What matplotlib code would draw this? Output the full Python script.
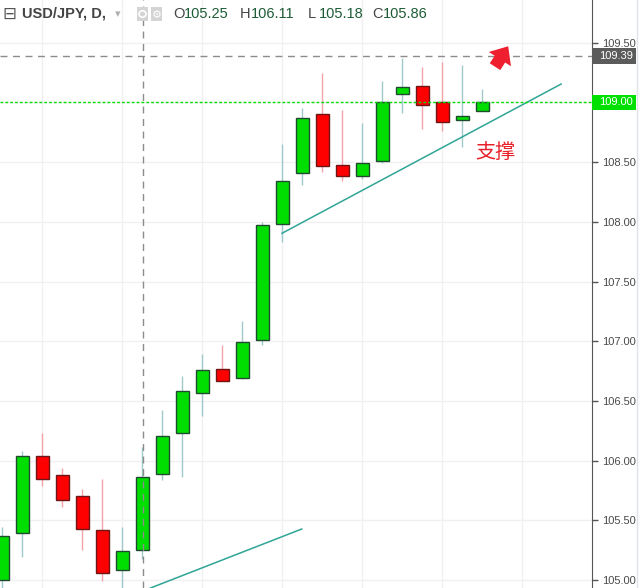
import matplotlib
matplotlib.use("Agg")
import matplotlib.pyplot as plt
from matplotlib.patches import Rectangle, Circle

# daily USD/JPY candles
opens = [105.00, 105.39, 106.04, 105.88, 105.70, 105.42, 105.08, 105.25, 105.89, 106.23,
         106.57, 106.77, 106.69, 107.01, 107.98, 108.41, 108.90, 108.48, 108.38, 108.51,
         109.07, 109.14, 109.00, 108.85, 108.93]
highs = [105.44, 106.08, 106.23, 105.94, 105.76, 105.85, 105.44, 106.11, 106.42, 106.71,
         106.89, 106.97, 107.17, 108.00, 108.65, 108.95, 109.25, 108.94, 108.83, 109.18,
         109.37, 109.30, 109.34, 109.31, 109.11]
lows = [104.90, 105.19, 105.79, 105.61, 105.25, 104.99, 104.90, 105.18, 105.84, 105.86,
        106.37, 106.67, 106.68, 106.97, 107.83, 108.31, 108.42, 108.34, 108.36, 108.49,
        108.91, 108.78, 108.76, 108.63, 108.93]
closes = [105.37, 106.04, 105.85, 105.67, 105.43, 105.06, 105.24, 105.86, 106.21, 106.58,
          106.76, 106.67, 106.99, 107.97, 108.34, 108.87, 108.47, 108.38, 108.49, 109.00,
          109.13, 108.98, 108.84, 108.89, 109.00]

y_ticks = [105.0, 105.5, 106.0, 106.5, 107.0, 107.5, 108.0, 108.5, 109.0, 109.5]
grid_x = [2, 6, 10, 14, 18, 22, 26]

last_price = 109.39
level_price = 109.00
support_upper = ([13.975, 27.93], [107.904, 109.154])
support_lower = ([7.4, 14.96], [104.933, 105.427])
crosshair_x = 7.04
header_vals = [("O", 105.25), ("H", 106.11), ("L", 105.18), ("C", 105.86)]

UP = "#00dd00"
DOWN = "#ff0000"
W, H = 639, 588

fig = plt.figure(figsize=(W / 100, H / 100), dpi=100)
ax = fig.add_axes([0, 0, 592 / W, 1])
ax.set_xlim(-0.125, 29.475)
ax.set_ylim(104.933, 109.858)

for i in range(len(opens)):
    o, h, l, c = opens[i], highs[i], lows[i], closes[i]
    up = c >= o
    wick = "#9fc8cb" if up else "#f4a3ab"
    ax.vlines(i, l, h, color=wick, lw=1.0, zorder=2)
    ax.bar(i, abs(c - o), bottom=min(o, c), width=0.62,
           color=UP if up else DOWN, edgecolor="#1f4a30" if up else "#6e1515",
           lw=1.0, zorder=3)

ax.plot(*support_upper, color="#2fa596", lw=1.1, zorder=4)
ax.plot(*support_lower, color="#2fa596", lw=1.1, zorder=4)

ax.axhline(last_price, color="#8c8c8c", lw=1.0, ls=(0, (5, 4)), zorder=1)
ax.axhline(level_price, color="#00dd00", lw=1.0, ls=(0, (2, 1.5)), zorder=4)
ax.axvline(crosshair_x, color="#8c8c8c", lw=1.0, ls=(0, (5, 4)), zorder=5)

ax.annotate("", xy=(25.36, 109.49), xytext=(24.55, 109.28),
            arrowprops=dict(arrowstyle="simple,head_width=1.9,head_length=1.1,tail_width=0.9",
                            color="#ee2030", mutation_scale=10, lw=0))
ax.text(24.65, 108.58, "支撑", color="#e8202a", fontsize=14.5, ha="center", va="center",
        family=["Noto Sans CJK SC", "DejaVu Sans"])

# axes styling
for side in ("left", "top", "bottom"):
    ax.spines[side].set_visible(False)
ax.spines["right"].set_color("#555555")
ax.yaxis.tick_right()
ax.set_yticks(y_ticks)
# the 109.00 label sits under the green price tag
ax.set_yticklabels(["" if v == level_price else f"{v:.2f}" for v in y_ticks])
ax.tick_params(axis="y", length=4, width=1, color="#555555", pad=3,
               labelsize=8, labelcolor="#4a4a4a")
for lab in ax.get_yticklabels():
    lab.set_family("Liberation Sans")
ax.set_xticks(grid_x)
ax.tick_params(axis="x", length=0, labelbottom=False)
ax.grid(True, color="#f0f0f0", lw=1.0, zorder=0)
ax.set_axisbelow(True)

# price tags on the scale
yt = ax.get_yaxis_transform()
for price, fc in ((last_price, "#5b5b5b"), (level_price, "#00e000")):
    ax.add_patch(Rectangle((1.0, price - 0.066), 44 / 592, 0.132, transform=yt,
                           fc=fc, ec="none", clip_on=False, zorder=10))
    ax.text(1.0 + 7 / 592, price, f"{price:.2f}", transform=yt, color="white",
            fontsize=8, family="Liberation Sans", va="center", ha="left",
            clip_on=False, zorder=11)

# right border of the scale
fig.add_artist(plt.Line2D([636.5 / W] * 2, [0, 1], color="#e0e3eb", lw=1.0))


def px(x, y):
    return x / W, 1 - y / H


# header legend
fig.text(*px(2, 14), "⊟", fontsize=12, color="#555555", va="center", family="DejaVu Sans")
fig.text(*px(22, 14), "USD/JPY, D,", fontsize=10.5, color="#444444", va="center",
         weight="bold", family="Liberation Sans")
fig.text(*px(115, 14), "▾", fontsize=8, color="#b0b0b0", va="center", family="DejaVu Sans")
for x0 in (137, 151):
    fig.add_artist(Rectangle(px(x0, 21), 11 / W, 14 / H, transform=fig.transFigure,
                             fc="#d4d4d4", ec="none"))
fig.add_artist(Circle(px(142.5, 14), 3.5 / W, transform=fig.transFigure,
                      fc="none", ec="white", lw=1.2))
fig.text(*px(156.5, 14.5), "⚙", fontsize=8, color="white", ha="center",
         va="center", family="DejaVu Sans")
x_pos = [173, 240, 308, 372]
for (letter, val), x0 in zip(header_vals, x_pos):
    fig.text(*px(x0, 14), letter, fontsize=10.5, color="#444444", va="center",
             family="Liberation Sans")
    fig.text(*px(x0 + 11, 14), f"{val:.2f}", fontsize=10.5, color="#1e5c36",
             va="center", family="Liberation Sans")

fig.savefig("out.png", dpi=100)
